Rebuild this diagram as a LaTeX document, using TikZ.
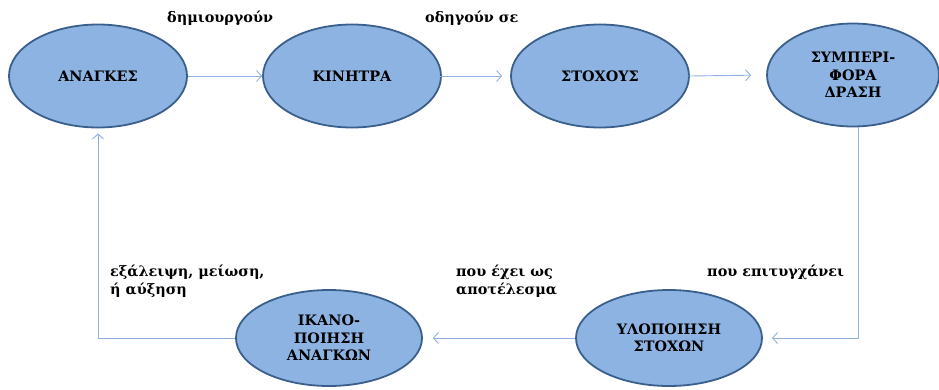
\documentclass[tikz,border=0pt]{standalone}
\usepackage{fontspec}
\setmainfont{DejaVu Serif}
\usetikzlibrary{arrows.meta,shapes.geometric}
\definecolor{fillblue}{HTML}{8DB3E2}
\definecolor{edgeblue}{HTML}{3A5F8C}
\definecolor{linkblue}{HTML}{8FB0DC}
\tikzset{
  ell/.style={ellipse, draw=edgeblue, line width=1.8pt, fill=fillblue,
    minimum width=178pt, minimum height=103pt, inner sep=0pt,
    font=\bfseries\fontsize{14.4}{17.5}\selectfont, align=center},
  ellb/.style={ell, minimum width=186pt, minimum height=96pt},
  link/.style={draw=linkblue, line width=0.9pt, -{Straight Barb[length=5pt,width=11pt]}},
  lbl/.style={font=\bfseries\fontsize{14.4}{17.5}\selectfont, align=left, inner sep=0pt, anchor=west}
}
\begin{document}
\begin{tikzpicture}[x=1pt,y=-1pt]
\useasboundingbox (0,0) rectangle (939,389);
\node[ell] (a1) at (98,76) {ΑΝΑΓΚΕΣ};
\node[ell] (a2) at (352,76) {ΚΙΝΗΤΡΑ};
\node[ell] (a3) at (600,76) {ΣΤΟΧΟΥΣ};
\node[ell, minimum width=172pt] (a4) at (853,75) {ΣΥΜΠΕΡΙ-\\ΦΟΡΑ\\ΔΡΑΣΗ};
\node[ellb] (a5) at (669,338) {ΥΛΟΠΟΙΗΣΗ\\ΣΤΟΧΩΝ};
\node[ellb] (a6) at (329,338) {ΙΚΑΝΟ-\\ΠΟΙΗΣΗ\\ΑΝΑΓΚΩΝ};

\node[lbl] (t1) at (167,18) {δημιουργούν};
\node[lbl] (t2) at (425,18) {οδηγούν σε};
\node[lbl] (t3) at (110,281) {εξάλειψη, μείωση,\\ή αύξηση};
\node[lbl] (t4) at (456,281) {που έχει ως\\αποτέλεσμα};
\node[lbl] (t5) at (707,272) {που επιτυγχάνει};

\draw[link] (a1.east) -- (a2.west);
\draw[link, shorten <=-12pt, shorten >=8pt] (a2.east) -- (a3.west);
\draw[link, shorten <=-10pt, shorten >=15pt] (a3.east) -- (a4.west);
\draw[link, shorten >=9pt] ([xshift=5pt]a4.south) |- (a5.east);
\draw[link, shorten >=10pt] (a5.west) -- (a6.east);
\draw[link, shorten >=5pt] (a6.west) -| (a1.south);
\end{tikzpicture}
\end{document}
